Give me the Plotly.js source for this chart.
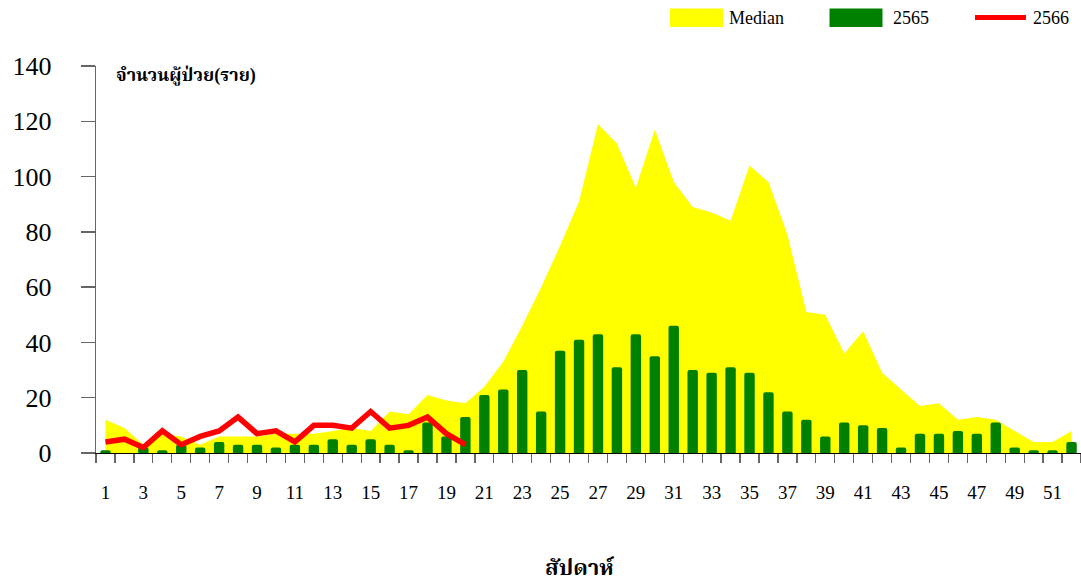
<!DOCTYPE html>
<html>
<head>
<meta charset="utf-8">
<script src="https://cdn.plot.ly/plotly-3.0.1.min.js"></script>
<style>html,body{margin:0;padding:0;background:#fff;}#chart{width:1081px;height:582px;}</style>
</head>
<body>
<div id="chart"></div>
<script>
const weeks = Array.from({length: 52}, (_, i) => i + 1);
const median = [12,9,3,7,6,3,6,6,6,7,7,7,8,9,8,15,14,21,19,18,
                24,33,46,60,75,91,119,112,96,117,98,89,87,84,104,98,79,51,50,36,
                44,29,23,17,18,12,13,12,8,4,4,8];
const y2565 = [1,0,2,1,3,2,4,3,3,2,3,3,5,3,5,3,1,11,6,13,
               21,23,30,15,37,41,43,31,43,35,46,30,29,31,29,22,15,12,6,11,
               10,9,2,7,7,8,7,11,2,1,1,4];
const y2566 = [4,5,2,8,3,6,8,13,7,8,4,10,10,9,15,9,10,13,7,3];
const weeks2566 = weeks.slice(0, y2566.length);
const tickLabels = weeks.filter(w => w % 2 === 1);
const seriesNames = ['Median', '2565', '2566'];
const yTitle = 'จำนวนผู้ป่วย(ราย)';
const xTitle = 'สัปดาห์';

const W = 1081, H = 582;
const M = {l: 96, r: 0, t: 66, b: 129};
const pw = W - M.l - M.r, ph = H - M.t - M.b;
const px = x => (x - M.l) / pw;
const py = y => (H - M.b - y) / ph;

const serif = 'Liberation Serif, Times New Roman, serif';
const thai = 'Liberation Serif, Noto Serif Thai, Noto Sans Thai, serif';
const XR = [0.5, 52.5], YR = [0, 140];

const traces = [
  {x: weeks, y: median, type: 'scatter', mode: 'lines', fill: 'tozeroy',
   fillcolor: '#FFFF00', line: {width: 0, color: '#FFFF00'}, name: seriesNames[0], hoverinfo: 'skip',
   xaxis: 'x', yaxis: 'y'},
  {x: weeks, y: y2565, type: 'bar', marker: {color: '#008000', line: {width: 0}},
   width: 0.55, name: seriesNames[1], xaxis: 'x2', yaxis: 'y2'},
  {x: weeks2566, y: y2566, type: 'scatter', mode: 'lines',
   line: {color: '#FF0000', width: 5.5}, name: seriesNames[2], xaxis: 'x2', yaxis: 'y2'}
];

const layout = {
  width: W, height: H,
  margin: M,
  showlegend: false,
  paper_bgcolor: '#fff', plot_bgcolor: 'rgba(0,0,0,0)',
  barcornerradius: 2,
  xaxis: {
    range: XR, tickvals: tickLabels, ticktext: tickLabels.map(String),
    ticks: '', showgrid: false, zeroline: false,
    showline: true, linecolor: '#000', linewidth: 1.2,
    tickfont: {family: serif, size: 19, color: '#000'},
    ticklabelstandoff: 22,
    minor: {tickvals: weeks.map(w => w - 0.5).concat([52.5]), ticks: 'outside', ticklen: 9,
            tickcolor: '#666', tickwidth: 1.3, showgrid: false}
  },
  yaxis: {
    range: YR, dtick: 20, ticks: 'outside', ticklen: 14, tickcolor: '#666', tickwidth: 1.3,
    showgrid: false, zeroline: false, showline: true, linecolor: '#666', linewidth: 1.3,
    tickfont: {family: serif, size: 26, color: '#000'},
    ticklabelstandoff: 24
  },
  xaxis2: {range: XR, overlaying: 'x', visible: false, showgrid: false, zeroline: false},
  yaxis2: {range: YR, overlaying: 'y', visible: false, showgrid: false, zeroline: false},
  annotations: [
    {xref: 'paper', yref: 'paper', x: px(114), y: py(75), xanchor: 'left', yanchor: 'middle',
     text: '<b>' + yTitle + '</b>', showarrow: false, font: {family: thai, size: 18, color: '#000'}},
    {xref: 'paper', yref: 'paper', x: px(580), y: py(567), xanchor: 'center', yanchor: 'middle',
     text: '<b>' + xTitle + '</b>', showarrow: false, font: {family: thai, size: 22, color: '#000'}},
    {xref: 'paper', yref: 'paper', x: px(727), y: py(18), xanchor: 'left', yanchor: 'middle',
     text: seriesNames[0], showarrow: false, font: {family: serif, size: 18, color: '#000'}},
    {xref: 'paper', yref: 'paper', x: px(891), y: py(18), xanchor: 'left', yanchor: 'middle',
     text: seriesNames[1], showarrow: false, font: {family: serif, size: 18, color: '#000'}},
    {xref: 'paper', yref: 'paper', x: px(1031), y: py(18), xanchor: 'left', yanchor: 'middle',
     text: seriesNames[2], showarrow: false, font: {family: serif, size: 18, color: '#000'}}
  ],
  shapes: [
    {type: 'rect', xref: 'paper', yref: 'paper', x0: px(670), x1: px(723), y0: py(27), y1: py(8.5),
     fillcolor: '#FFFF00', line: {width: 0}},
    {type: 'rect', xref: 'paper', yref: 'paper', x0: px(829.5), x1: px(882.5), y0: py(27), y1: py(8.5),
     fillcolor: '#008000', line: {width: 0}},
    {type: 'line', xref: 'paper', yref: 'paper', x0: px(975), x1: px(1026), y0: py(17.5), y1: py(17.5),
     line: {color: '#FF0000', width: 5}}
  ]
};

Plotly.newPlot('chart', traces, layout, {displayModeBar: false, staticPlot: true});
</script>
</body>
</html>
